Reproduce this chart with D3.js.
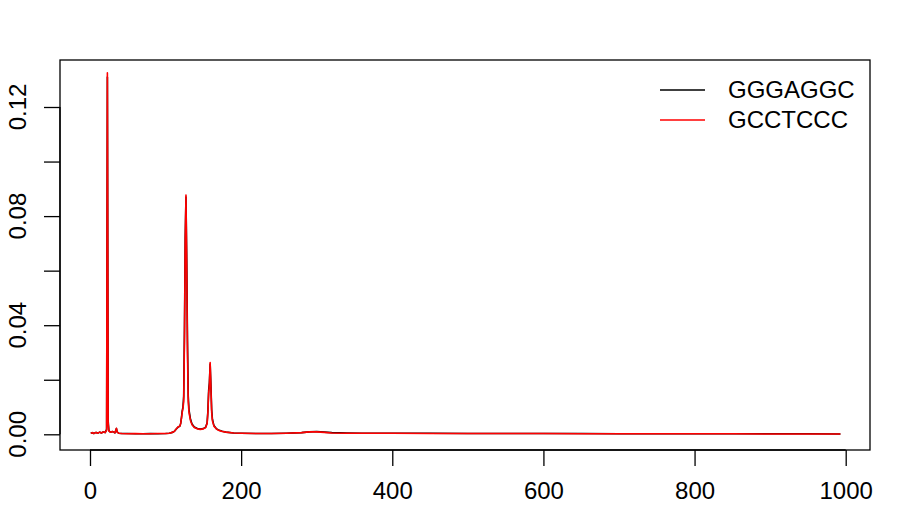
<!DOCTYPE html>
<html>
<meta charset="utf-8">
<title>GGGAGGC vs GCCTCCC</title>
<style>
  body { margin: 0; background: #fff; }
  svg text { font-family: "Liberation Sans", Arial, sans-serif; fill: #000; }
  .frame { fill: none; stroke: #000; stroke-width: 1.3px; }
  .tick line, .domain { stroke: #000; stroke-width: 1.3px; }
  .series { fill: none; stroke-width: 1.6px; stroke-linejoin: round; }
</style>
<body>
<div id="chart"></div>
<script src="https://d3js.org/d3.v7.min.js"></script>
<script>
// positions along the sequence (shared by both series)
var pos = [1, 3, 5, 8, 10, 13, 15, 18, 20, 22, 23, 24, 25, 27, 30, 33, 35, 36, 38, 42,
  50, 60, 70, 80, 90, 100, 105, 110, 112, 115, 117, 119, 120, 121, 122, 123, 124, 125,
  126, 127, 128, 129, 130, 131, 133, 135, 138, 142, 146, 150, 153, 155, 156, 157, 158,
  159, 160, 161, 162, 164, 167, 170, 175, 180, 190, 200, 220, 240, 260, 280, 290, 300,
  310, 320, 340, 360, 400, 450, 500, 550, 600, 650, 700, 750, 800, 850, 900, 950, 993];

// GGGAGGC (black)
var blackVals = [0.0004, 0.0006, 0.0003, 0.0007, 0.0004, 0.0008, 0.0005, 0.0009, 0.0006, 0.0018,
  0.131, 0.005, 0.0013, 0.0008, 0.0010, 0.0005, 0.0021, 0.0008, 0.0004, 0.0003,
  0.0003, 0.0002, 0.0002, 0.0003, 0.0002, 0.0003, 0.0004, 0.0008, 0.0012, 0.0022, 0.0027, 0.0030, 0.0040, 0.0060, 0.0085, 0.0100, 0.0140, 0.038,
  0.072, 0.0870, 0.064, 0.034, 0.014, 0.0090, 0.0055, 0.0038, 0.0027, 0.0021, 0.0019, 0.0021, 0.0026, 0.0042, 0.0085, 0.0160, 0.0190,
  0.0258, 0.0180, 0.0090, 0.0055, 0.0032, 0.0021, 0.0016, 0.0011, 0.0008, 0.0005, 0.0004, 0.0003, 0.0003, 0.0004, 0.0006, 0.0009, 0.0010,
  0.0008, 0.0006, 0.0005, 0.0004, 0.0004, 0.0004, 0.0003, 0.0003, 0.0003, 0.0003, 0.0002, 0.0002, 0.0002, 0.0002, 0.0002, 0.0002, 0.0001];

// GCCTCCC (red)
var redVals = [0.0004, 0.0006, 0.0003, 0.0007, 0.0004, 0.0008, 0.0005, 0.0009, 0.0006, 0.0015,
  0.1325, 0.004, 0.0012, 0.0008, 0.0010, 0.0005, 0.0022, 0.0008, 0.0004, 0.0003,
  0.0002, 0.0003, 0.0002, 0.0002, 0.0003, 0.0003, 0.0004, 0.0008, 0.0012, 0.0022, 0.0028, 0.0030, 0.0040, 0.0058, 0.0080, 0.0095, 0.0120, 0.035,
  0.070, 0.0877, 0.060, 0.030, 0.012, 0.0080, 0.0050, 0.0035, 0.0025, 0.0020, 0.0018, 0.0020, 0.0025, 0.0040, 0.0080, 0.0150, 0.0180,
  0.0263, 0.0170, 0.0080, 0.0050, 0.0030, 0.0020, 0.0015, 0.0010, 0.0008, 0.0005, 0.0004, 0.0003, 0.0003, 0.0004, 0.0006, 0.0009, 0.0009,
  0.0007, 0.0005, 0.0004, 0.0004, 0.0004, 0.0003, 0.0003, 0.0003, 0.0003, 0.0002, 0.0002, 0.0002, 0.0002, 0.0002, 0.0001, 0.0001, 0.0001];

var xTicks = [0, 200, 400, 600, 800, 1000];
var yTicks = [0, 0.02, 0.04, 0.06, 0.08, 0.10, 0.12];
var yLabelTicks = [0, 0.04, 0.08, 0.12];
var seriesNames = ["GGGAGGC", "GCCTCCC"];
var seriesColors = ["#000000", "#ff0000"];

var width = 900, height = 525;
var box = {left: 60, right: 870, top: 60, bottom: 450};

var x = d3.scaleLinear().domain([0, 1000]).range([90, 845.7]);
var y = d3.scaleLinear().domain([0, 0.12]).range([434.3, 107]);

var svg = d3.select("#chart").append("svg")
    .attr("width", width)
    .attr("height", height);

// series
var line = d3.line()
    .x(function(d) { return x(d[0]); })
    .y(function(d) { return y(d[1]); });

[blackVals, redVals].forEach(function(vals, i) {
  svg.append("path")
      .datum(pos.map(function(p, j) { return [p, vals[j]]; }))
      .attr("class", "series")
      .attr("stroke", seriesColors[i])
      .attr("d", line);
});

svg.append("rect")
    .attr("class", "frame")
    .attr("x", box.left)
    .attr("y", box.top)
    .attr("width", box.right - box.left)
    .attr("height", box.bottom - box.top);

// x axis
var xAxis = svg.append("g")
    .attr("transform", "translate(0," + box.bottom + ")")
    .call(d3.axisBottom(x).tickValues(xTicks).tickSize(16).tickPadding(16)
      .tickFormat(d3.format("d")));
xAxis.select(".domain").attr("d", "M" + x(0) + ",0H" + x(1000));
xAxis.selectAll("text").style("font-size", "24px");

// y axis
var yAxis = svg.append("g")
    .attr("transform", "translate(" + box.left + ",0)")
    .call(d3.axisLeft(y).tickValues(yTicks).tickSize(16).tickFormat(""));
yAxis.select(".domain").attr("d", "M0," + y(0) + "V" + y(0.12));

svg.append("g").selectAll("text")
    .data(yLabelTicks)
  .enter().append("text")
    .attr("transform", function(d) { return "translate(26," + y(d) + ") rotate(-90)"; })
    .attr("text-anchor", "middle")
    .style("font-size", "24px")
    .text(function(d) { return d3.format(".2f")(d); });

// legend
var legend = svg.append("g");
seriesNames.forEach(function(name, i) {
  var ly = 90 + i * 30;
  legend.append("line")
      .attr("x1", 660).attr("x2", 705)
      .attr("y1", ly).attr("y2", ly)
      .attr("stroke", seriesColors[i])
      .attr("stroke-width", 1.3);
  legend.append("text")
      .attr("x", 728)
      .attr("y", ly)
      .attr("dy", "0.35em")
      .style("font-size", "24px")
      .text(name);
});
</script>
</body>
</html>
